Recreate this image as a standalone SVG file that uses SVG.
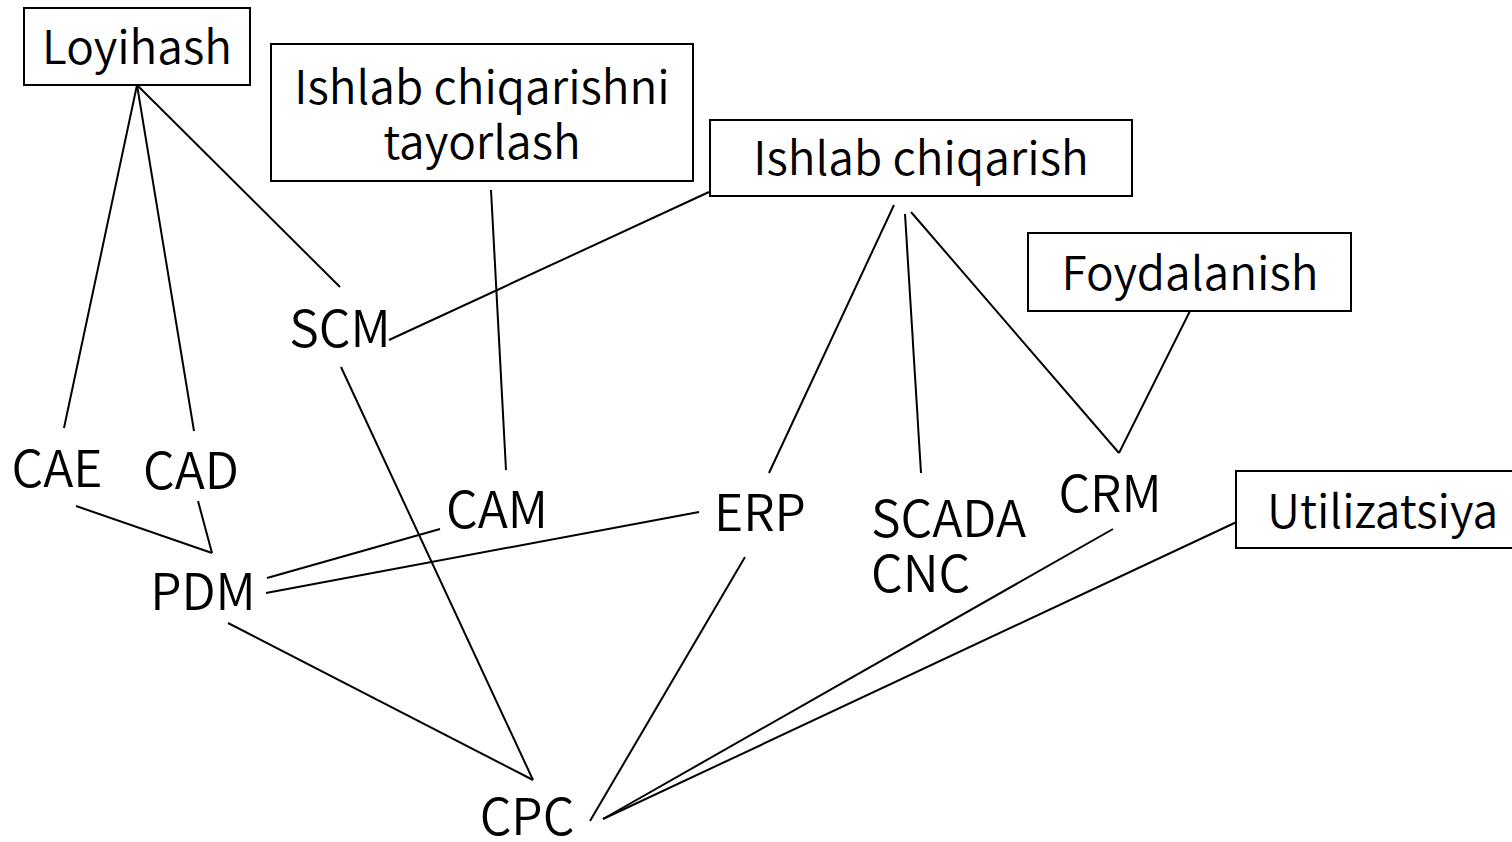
<svg xmlns="http://www.w3.org/2000/svg" width="1512" height="842" viewBox="0 0 1512 842">
<style>
text{font-family:"Noto Sans CJK KR","Noto Sans",sans-serif;font-size:46px;font-weight:350;fill:#000}
.c{text-anchor:middle}
.l{font-size:50px}
rect{fill:#fff;stroke:#000;stroke-width:2}
#connectors line{stroke:#000;stroke-width:2}
</style>
<rect x="0" y="0" width="1512" height="842" style="fill:#fff;stroke:none"/>
<g id="connectors">
<line x1="137" y1="85" x2="64" y2="428"/>
<line x1="137" y1="85" x2="194" y2="431"/>
<line x1="137" y1="85" x2="340" y2="287"/>
<line x1="709" y1="192" x2="389" y2="340"/>
<line x1="491" y1="190" x2="506" y2="470"/>
<line x1="894" y1="205" x2="769" y2="473"/>
<line x1="905" y1="214" x2="921" y2="473"/>
<line x1="911" y1="212" x2="1119" y2="453"/>
<line x1="1190" y1="311" x2="1119" y2="453"/>
<line x1="76" y1="506" x2="212" y2="553"/>
<line x1="198" y1="501" x2="212" y2="553"/>
<line x1="440" y1="529" x2="267" y2="578"/>
<line x1="699" y1="512" x2="266" y2="593"/>
<line x1="228" y1="623" x2="533" y2="780"/>
<line x1="341" y1="367" x2="533" y2="780"/>
<line x1="745" y1="557" x2="590" y2="821"/>
<line x1="1113" y1="529" x2="603" y2="819"/>
<line x1="1243" y1="519" x2="603" y2="819"/>
</g>
<g id="loyihash"><rect x="24" y="8" width="226" height="77"/><text class="c" x="137" y="64">Loyihash</text></g>
<g id="tayorlash"><rect x="271" y="44" width="422" height="137"/><text class="c" x="482" y="104">Ishlab chiqarishni</text><text class="c" x="482" y="159">tayorlash</text></g>
<g id="ishlab"><rect x="710" y="120" width="422" height="76"/><text class="c" x="921" y="175">Ishlab chiqarish</text></g>
<g id="foydalanish"><rect x="1028" y="233" width="323" height="78"/><text class="c" x="1190" y="290">Foydalanish</text></g>
<g id="utilizatsiya"><rect x="1236" y="471" width="290" height="77"/><text x="1267" y="528">Utilizatsiya</text></g>
<g id="scm"><text class="c l" x="340" y="347">SCM</text></g>
<g id="cae"><text class="c l" x="57" y="487">CAE</text></g>
<g id="cad"><text class="c l" x="191" y="489">CAD</text></g>
<g id="cam"><text class="c l" x="497" y="528">CAM</text></g>
<g id="erp"><text class="c l" x="760" y="531">ERP</text></g>
<g id="scada"><text class="l" x="871" y="537">SCADA</text><text class="l" x="871" y="592">CNC</text></g>
<g id="crm"><text class="c l" x="1110" y="512">CRM</text></g>
<g id="pdm"><text class="c l" x="203" y="610">PDM</text></g>
<g id="cpc"><text class="c l" x="527" y="835">CPC</text></g>
</svg>
